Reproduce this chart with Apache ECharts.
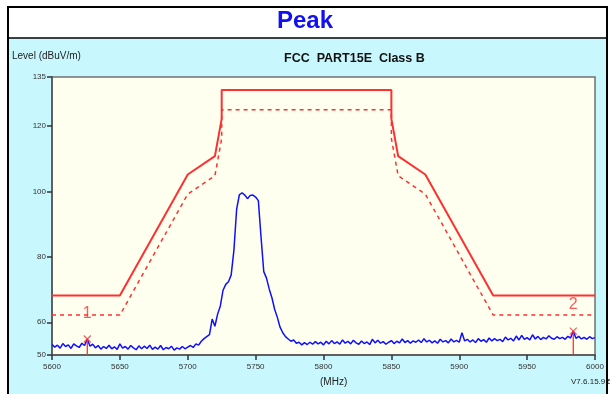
<!DOCTYPE html>
<html><head><meta charset="utf-8">
<script src="https://cdn.jsdelivr.net/npm/echarts@6/dist/echarts.min.js"></script>
<style>html,body{margin:0;padding:0;background:#fff}#c{width:610px;height:394px}</style>
</head><body><div id="c"></div>
<script>
// Limit lines
var limitFreq  = [5600, 5650, 5700, 5720, 5725, 5725, 5850, 5850, 5855, 5875, 5925, 6000];
var limitLevel = [68.2, 68.2, 105.2, 110.8, 122.2, 131.0, 131.0, 122.2, 110.8, 105.2, 68.2, 68.2];
var marginLevel= [62.2, 62.2, 99.2, 104.8, 116.2, 125.0, 125.0, 116.2, 104.8, 99.2, 62.2, 62.2];
// Measured trace (sweep start / step in MHz)
var traceStart = 5600, traceStep = 2;
var traceLevel = [
53.2,52.4,53.0,52.1,53.5,52.6,53.1,52.0,53.4,52.8,52.3,53.6,52.9,54.9,52.7,53.3,52.2,52.9,51.8,52.6,
52.0,53.0,51.9,52.5,51.7,53.4,52.1,52.6,51.8,52.9,52.2,51.6,52.8,51.9,52.7,52.0,53.0,51.7,52.4,51.8,
52.9,51.6,52.3,51.9,52.7,51.5,52.2,51.8,52.6,51.9,52.4,52.9,52.3,53.4,53.0,54.2,55.0,55.6,56.2,61.0,
58.8,62.5,65.0,69.8,71.6,72.4,74.5,82.0,94.5,99.0,99.6,98.9,97.8,98.8,98.9,98.3,97.2,86.0,75.5,73.5,
70.2,67.5,64.0,61.5,58.5,56.8,55.6,54.9,54.2,54.6,53.6,53.9,53.1,53.8,53.2,53.9,53.3,54.1,53.4,53.9,
53.1,54.2,53.4,54.4,53.5,54.0,53.3,54.6,53.6,54.2,53.4,54.5,53.7,53.3,54.3,53.5,54.0,53.2,54.8,53.7,
54.5,53.6,54.1,53.3,53.9,54.4,53.5,54.2,53.7,54.9,53.8,54.4,53.6,54.3,53.9,54.6,53.8,55.0,54.0,54.5,
53.7,54.3,53.6,54.8,54.0,54.4,53.7,54.9,54.0,54.5,53.9,56.8,54.3,54.8,54.0,54.6,53.8,55.0,54.2,54.7,
53.9,55.2,54.3,55.0,54.4,54.8,54.1,55.5,54.6,55.1,54.3,55.8,54.6,56.0,54.8,55.3,54.6,56.2,54.9,55.7,
54.7,55.4,54.9,55.9,55.1,54.8,55.6,55.0,55.4,54.8,55.7,55.2,57.3,55.1,55.7,54.9,55.4,54.8,55.6,55.0,
55.3];
// Markers
var markerFreq  = [5626, 5984];
var markerLevel = [54.9, 57.3];
var markerName  = ['1', '2'];
var markerTextLevel = [62.8, 65.4];
// Axis ticks
var yTicks = [50, 60, 80, 100, 120, 135];

function pairs(xs, ys){ return xs.map(function(x,i){ return [x, ys[i]]; }); }
var traceData = traceLevel.map(function(v,i){ return [traceStart + i*traceStep, v]; });

var RED = '#ff3030', BLUE = '#1010ff';
var axisFont = "'Liberation Sans Narrow','Arial Narrow',Arial,sans-serif";

var series = [
  {type:'line', data:pairs(limitFreq, limitLevel), symbol:'none', silent:true,
   lineStyle:{color:RED, width:2}, z:3},
  {type:'line', data:pairs(limitFreq, marginLevel), symbol:'none', silent:true,
   lineStyle:{color:RED, width:1.5, type:[4,4]}, z:3},
  {type:'line', data:traceData, symbol:'none', silent:true,
   lineStyle:{color:BLUE, width:1.5}, z:4}
];
markerFreq.forEach(function(f,i){
  series.push({type:'line', data:[[f,50],[f,markerLevel[i]]], symbol:'none', silent:true,
    lineStyle:{color:RED, width:1.3}, z:5});
});
series.push({type:'scatter', data:pairs(markerFreq, markerLevel), silent:true, z:6,
  symbol:'path://M0,0L10,10M10,0L0,10', symbolSize:7,
  itemStyle:{color:'rgba(0,0,0,0)', borderColor:RED, borderWidth:1.2}});
series.push({type:'scatter', data:pairs(markerFreq, markerTextLevel), silent:true, z:6,
  symbolSize:0,
  label:{show:true, position:'inside', color:RED, fontSize:16, fontFamily:'Arial',
    formatter:function(p){ return markerName[p.dataIndex]; }}});

var chart = echarts.init(document.getElementById('c'), null, {renderer:'canvas'});
chart.setOption({
  animation:false,
  backgroundColor:'#ffffff',
  graphic:[
    {type:'rect', shape:{x:9, y:38, width:598, height:360}, style:{fill:'#c8f7fd'}, z:-10, silent:true},
    {type:'rect', shape:{x:8, y:7, width:599, height:400}, style:{fill:'none', stroke:'#000', lineWidth:2}, z:-9, silent:true},
    {type:'line', shape:{x1:8, y1:38, x2:607, y2:38}, style:{stroke:'#000', lineWidth:1.5}, z:-9, silent:true},
    {type:'text', left:'center', top:9, style:{text:'Peak', fill:'#1010f0', font:'bold 24px Arial'}, z:10},
    {type:'text', left:12, top:51, style:{text:'Level (dBuV/m)', fill:'#222', font:"10px "+axisFont}, z:10},
    {type:'text', left:284, top:52, style:{text:'FCC  PART15E  Class B', fill:'#111', font:"bold 12.5px "+axisFont}, z:10},
    {type:'text', left:320, top:377, style:{text:'(MHz)', fill:'#222', font:"10px "+axisFont}, z:10},
    {type:'text', left:571, top:378, style:{text:'V7.6.15.9.5', fill:'#222', font:"8px "+axisFont}, z:10}
  ],
  grid:{left:52, top:77, right:15, bottom:39, show:true, backgroundColor:'#fffff0',
        borderColor:'#707070', borderWidth:1.5},
  xAxis:{type:'value', min:5600, max:6000, interval:50,
    axisLine:{show:true, lineStyle:{color:'#606060', width:2}},
    axisTick:{show:true, length:5, lineStyle:{color:'#333', width:1.5}},
    axisLabel:{color:'#333', fontSize:8, fontFamily:axisFont, margin:8,
      formatter:function(v){ return String(v); }},
    splitLine:{show:false}},
  yAxis:{type:'value', min:50, max:135,
    axisLine:{show:true, lineStyle:{color:'#606060', width:2}},
    axisTick:{show:true, length:5, customValues:yTicks, lineStyle:{color:'#333', width:1.5}},
    axisLabel:{color:'#333', fontSize:8, fontFamily:axisFont, margin:6, customValues:yTicks},
    splitLine:{show:false}},
  series:series
});
</script></body></html>
